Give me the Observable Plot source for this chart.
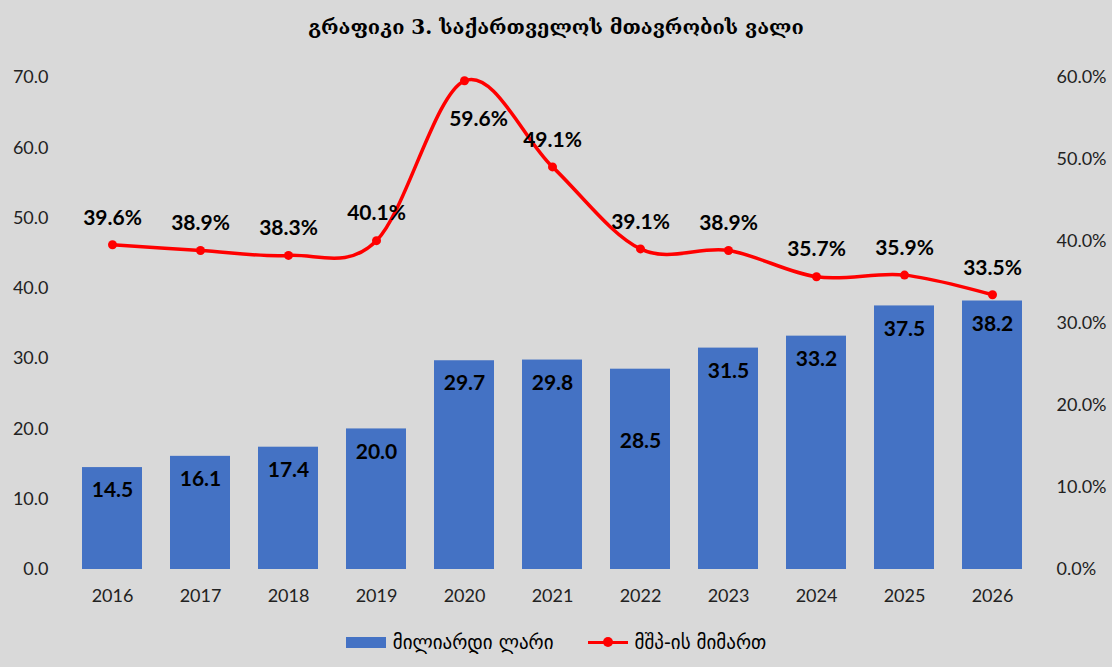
<!DOCTYPE html>
<html>
<head>
<meta charset="utf-8">
<script src="https://cdn.jsdelivr.net/npm/d3@7"></script>
<script src="https://cdn.jsdelivr.net/npm/@observablehq/plot@0.6"></script>
<style>
  html, body { margin: 0; padding: 0; background: #d9d9d9; }
  #wrap { width: 1112px; height: 667px; background: #d9d9d9; position: relative; overflow: hidden; }
  #title { height: 50px; line-height: 54px; text-align: center; font-family: "DejaVu Serif", "DejaVu Sans", serif; font-weight: bold; font-size: 20px; color: #000; }
  #legend { position: absolute; top: 631px; left: 0; width: 1112px; display: flex; justify-content: center; align-items: center; font-family: "DejaVu Sans", sans-serif; font-size: 19px; color: #000; }
  .item { display: flex; align-items: center; margin: 0 17px; }
  .sw-bar { width: 40px; height: 11px; background: #4472c4; margin-right: 7px; }
  .sw-line { width: 40px; height: 12px; margin-right: 7px; position: relative; }
  .sw-line::before { content: ""; position: absolute; left: 0; right: 0; top: 4.5px; height: 3px; background: #ff0000; }
  .sw-line::after { content: ""; position: absolute; left: 15px; top: 1px; width: 10px; height: 10px; border-radius: 50%; background: #ff0000; }
</style>
</head>
<body>
<div id="wrap">
  <div id="title">გრაფიკი 3. საქართველოს მთავრობის ვალი</div>
  <div id="chart"></div>
  <div id="legend">
    <div class="item"><div class="sw-bar"></div><span>მილიარდი ლარი</span></div>
    <div class="item"><div class="sw-line"></div><span>მშპ-ის მიმართ</span></div>
  </div>
</div>
<script>
const years = ["2016","2017","2018","2019","2020","2021","2022","2023","2024","2025","2026"];
const debtGEL = [14.5, 16.1, 17.4, 20.0, 29.7, 29.8, 28.5, 31.5, 33.2, 37.5, 38.2];
const debtPctGDP = [39.6, 38.9, 38.3, 40.1, 59.6, 49.1, 39.1, 38.9, 35.7, 35.9, 33.5];
const leftTicks = [0, 10, 20, 30, 40, 50, 60, 70];
const rightTicks = [0, 10, 20, 30, 40, 50, 60];

// secondary axis: 0–60% mapped onto the primary 0–70 range
const pctToLeft = d3.scaleLinear().domain([0, 60]).range([0, 70]);

const data = years.map((y, i) => ({year: y, gel: debtGEL[i], pct: debtPctGDP[i], pctY: pctToLeft(debtPctGDP[i])}));

const labelFont = "Lato, 'Open Sans', sans-serif";

const chart = Plot.plot({
  width: 1112,
  height: 560,
  marginLeft: 67,
  marginRight: 75,
  marginTop: 27,
  marginBottom: 41,
  style: {background: "transparent", fontFamily: labelFont, fontSize: "18px", color: "#000"},
  x: {domain: years, paddingInner: 0.32, paddingOuter: 0.16, label: null},
  y: {domain: [0, 70], label: null},
  marks: [
    Plot.axisY({anchor: "left", ticks: leftTicks, tickSize: 0, tickPadding: 19, tickFormat: d => d.toFixed(1), label: null, fontSize: 18, fill: "#222"}),
    Plot.axisY({anchor: "right", ticks: rightTicks.map(p => pctToLeft(p)), tickSize: 0, tickPadding: 19,
      tickFormat: v => pctToLeft.invert(v).toFixed(1) + "%", label: null, fontSize: 18, fill: "#222"}),
    Plot.axisX({tickSize: 0, tickPadding: 20, label: null, fontSize: 18, fill: "#222"}),
    Plot.barY(data, {x: "year", y: "gel", fill: "#4472c4"}),
    Plot.text(data.filter(d => d.year !== "2022"), {x: "year", y: "gel", text: d => d.gel.toFixed(1), dy: 23, fontWeight: "bold", fontSize: 21, fill: "#000"}),
    Plot.text(data.filter(d => d.year === "2022"), {x: "year", y: "gel", text: d => d.gel.toFixed(1), dy: 72, fontWeight: "bold", fontSize: 21, fill: "#000"}),
    Plot.line(data, {x: "year", y: "pctY", stroke: "#ff0000", strokeWidth: 3.5, curve: "cardinal"}),
    Plot.dot(data, {x: "year", y: "pctY", r: 4.5, fill: "#ff0000"}),
    Plot.text(data.filter(d => d.year !== "2020"), {x: "year", y: "pctY", text: d => d.pct.toFixed(1) + "%", dy: -27, fontWeight: "bold", fontSize: 21, fill: "#000"}),
    Plot.text(data.filter(d => d.year === "2020"), {x: "year", y: "pctY", text: d => d.pct.toFixed(1) + "%", dx: 14, dy: 38, fontWeight: "bold", fontSize: 21, fill: "#000"})
  ]
});
document.getElementById("chart").appendChild(chart);
</script>
</body>
</html>
